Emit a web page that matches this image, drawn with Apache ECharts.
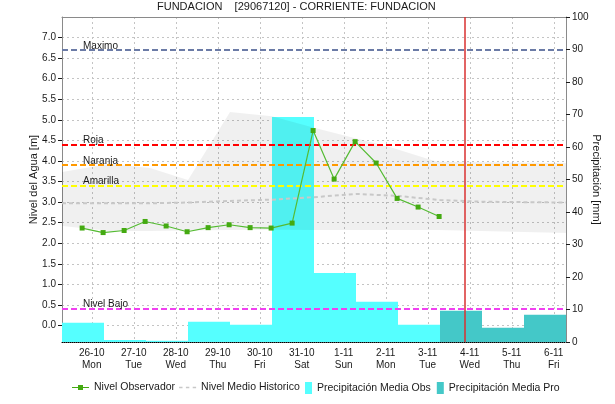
<!DOCTYPE html>
<html><head><meta charset="utf-8">
<script src="https://cdn.jsdelivr.net/npm/echarts@6/dist/echarts.min.js"></script>
<style>html,body{margin:0;padding:0;background:#fff}#c{width:615px;height:404px}</style>
</head><body><div id="c"></div>
<script>
const titleText = 'FUNDACION    [29067120] - CORRIENTE: FUNDACION';
// x values: hours since 25-10 00:00
const tickHours = [24,48,72,96,120,144,168,192,216,240,264,288];
const tickDates = ['26-10','27-10','28-10','29-10','30-10','31-10','1-11','2-11','3-11','4-11','5-11','6-11'];
const tickDays = ['Mon','Tue','Wed','Thu','Fri','Sat','Sun','Mon','Tue','Wed','Thu','Fri'];
const levelTicks = [0,0.5,1,1.5,2,2.5,3,3.5,4,4.5,5,5.5,6,6.5,7];
const obsHours = [18.5,30.5,42.5,54.5,66.5,78.5,90.5,102.5,114.5,126.5,138.5,150.5,162.5,174.5,186.5,198.5,210.5,222.5];
const obsLevel = [2.37,2.26,2.31,2.53,2.42,2.28,2.38,2.45,2.38,2.37,2.49,4.74,3.56,4.47,3.95,3.09,2.88,2.65];
const histHours = [7,31,55,79,103,127,151,175,199,223,247,271,295];
const histLevel = [2.97,2.97,2.97,2.99,3.03,3.06,3.12,3.20,3.15,3.05,3.01,3.00,2.99];
const bandHours = [7,34.4,57.3,79,103,127,151.6,194.4,221.3,295];
const bandUpper = [3.73,3.93,3.83,3.54,5.19,5.09,4.80,4.34,3.98,3.95];
const bandLower = [2.42,2.30,2.30,2.31,2.32,2.33,2.32,2.32,2.32,2.25];
const obsPrecipHours = [19,43,67,91,115,139,163,187,211];
const obsPrecip = [5.9,0.6,0.4,6.2,5.3,69.2,21.2,12.4,5.3];
const proPrecipHours = [235,259,283];
const proPrecip = [9.6,4.4,8.4];
const thresholdNames = ['Maximo','Roja','Naranja','Amarilla','Nivel Bajo'];
const thresholdValues = [6.7,4.4,3.9,3.4,0.42];
const thresholdColors = ['#6b7ba6','#ff0000','#ff9900','#ffff00','#f040f0'];
const nowHour = 237;

const FONT = 'Liberation Sans';
const chart = echarts.init(document.getElementById('c'), null, {renderer:'canvas'});
const gridLine = {show:true, lineStyle:{color:'#c4c4c4', type:[2,3], width:1}};
const legendText = {fontSize:10.5, color:'#1a1a1a', fontFamily:FONT};
chart.setOption({
  animation:false,
  textStyle:{fontFamily:FONT},
  title:{text:titleText, left:157, top:0, padding:[1,0,0,0],
    textStyle:{fontSize:11, fontWeight:'normal', color:'#1a1a1a', fontFamily:FONT}},
  grid:{left:62, right:49, top:17, bottom:62, containLabel:false},
  legend:[
    {top:377, left:67, itemGap:4, itemWidth:17, itemHeight:12, textStyle:legendText,
      data:[
        {name:'Nivel Observador', icon:'path://M0,2L17,2L17,3L0,3Z M6,0L11,0L11,5L6,5Z'},
        {name:'Nivel Medio Historico', icon:'path://M0,0L3,0L3,1.5L0,1.5Z M6,0L9,0L9,1.5L6,1.5Z M12,0L15,0L15,1.5L12,1.5Z'}
      ]},
    {top:377, left:300, itemGap:6, itemWidth:7, itemHeight:12, textStyle:legendText,
      data:[
        {name:'Precipitación Media Obs', icon:'rect'},
        {name:'Precipitación Media Pro', icon:'rect'}
      ]}
  ],
  xAxis:[
    {type:'value', min:7, max:295, position:'bottom',
      axisLine:{show:true, onZero:false, lineStyle:{color:'#000', type:'dotted', width:1}},
      axisTick:{show:false, customValues:tickHours},
      axisLabel:{customValues:tickHours, fontSize:10, lineHeight:12, color:'#1a1a1a', margin:5,
        formatter:function(v){const i=tickHours.indexOf(v); return i<0?'':tickDates[i]+'\n'+tickDays[i];}},
      splitLine:gridLine},
    {type:'value', min:7, max:295, position:'top',
      axisLine:{show:true, onZero:false, lineStyle:{color:'#8a8a8a'}},
      axisTick:{show:false}, axisLabel:{show:false}, splitLine:{show:false}}
  ],
  yAxis:[
    {type:'value', min:-0.4, max:7.5, position:'left',
      name:'Nivel del Agua [m]', nameLocation:'middle', nameGap:23, nameMoveOverlap:false,
      nameTextStyle:{fontSize:11, color:'#1a1a1a', fontFamily:FONT},
      axisLine:{show:true, onZero:false, lineStyle:{color:'#8a8a8a'}},
      axisTick:{show:true, length:4, customValues:levelTicks, lineStyle:{color:'#1a1a1a'}},
      axisLabel:{customValues:levelTicks, fontSize:10, color:'#1a1a1a', margin:6,
        formatter:function(v){return v.toFixed(1);}},
      splitLine:gridLine},
    {type:'value', min:0, max:100, interval:10, position:'right',
      name:'Precipitación [mm]', nameLocation:'middle', nameGap:25, nameRotate:-90, nameMoveOverlap:false,
      nameTextStyle:{fontSize:11, color:'#1a1a1a', fontFamily:FONT},
      axisLine:{show:true, onZero:false, lineStyle:{color:'#8a8a8a'}},
      axisTick:{show:true, length:4, lineStyle:{color:'#1a1a1a'}},
      axisLabel:{fontSize:10, color:'#1a1a1a', margin:6},
      splitLine:{show:false}}
  ],
  series:[
    {name:'Precipitación Media Obs', type:'bar', xAxisIndex:0, yAxisIndex:1, z:1,
      barWidth:42, barGap:'-100%', itemStyle:{color:'#55ffff'},
      data:obsPrecipHours.map((h,i)=>[h,obsPrecip[i]])},
    {name:'Precipitación Media Pro', type:'bar', xAxisIndex:0, yAxisIndex:1, z:1,
      barWidth:42, barGap:'-100%', itemStyle:{color:'#44c8c8'},
      data:proPrecipHours.map((h,i)=>[h,proPrecip[i]])},
    {name:'band', type:'custom', xAxisIndex:0, yAxisIndex:0, z:2, silent:true,
      data:bandHours.map((h,i)=>[h,bandUpper[i],bandLower[i]]),
      encode:{x:0, y:[1,2]},
      renderItem:function(params, api){
        if(params.dataIndex!==0) return null;
        const pts=[];
        for(let i=0;i<bandHours.length;i++) pts.push(api.coord([bandHours[i],bandUpper[i]]));
        for(let i=bandHours.length-1;i>=0;i--) pts.push(api.coord([bandHours[i],bandLower[i]]));
        return {type:'polygon', shape:{points:pts}, style:{fill:'rgba(0,0,0,0.06)'}};
      }},
    {name:'Nivel Medio Historico', type:'line', xAxisIndex:0, yAxisIndex:0, z:3,
      symbol:'none', lineStyle:{color:'#c8c8c8', width:2, type:[4,3]}, itemStyle:{color:'#c8c8c8'},
      data:histHours.map((h,i)=>[h,histLevel[i]])},
    {name:'thresholds', type:'line', xAxisIndex:0, yAxisIndex:0, z:4, data:[],
      markLine:{silent:true, symbol:'none', animation:false,
        data:thresholdValues.map((v,i)=>({yAxis:v,
          lineStyle:{color:thresholdColors[i], type:[6,3], width:2},
          label:{show:true, position:'insideStartTop', distance:[21,-1], formatter:thresholdNames[i],
            fontSize:10, color:'#1a1a1a', fontFamily:FONT}})).concat([
          {xAxis:nowHour, lineStyle:{color:'#d93030', type:'solid', width:1.5}, label:{show:false}}
        ])}},
    {name:'Nivel Observador', type:'line', xAxisIndex:0, yAxisIndex:0, z:5,
      symbol:'rect', symbolSize:5, showSymbol:true,
      lineStyle:{color:'#55bb33', width:1.2}, itemStyle:{color:'#44aa11'},
      data:obsHours.map((h,i)=>[h,obsLevel[i]])}
  ]
});
</script></body></html>
